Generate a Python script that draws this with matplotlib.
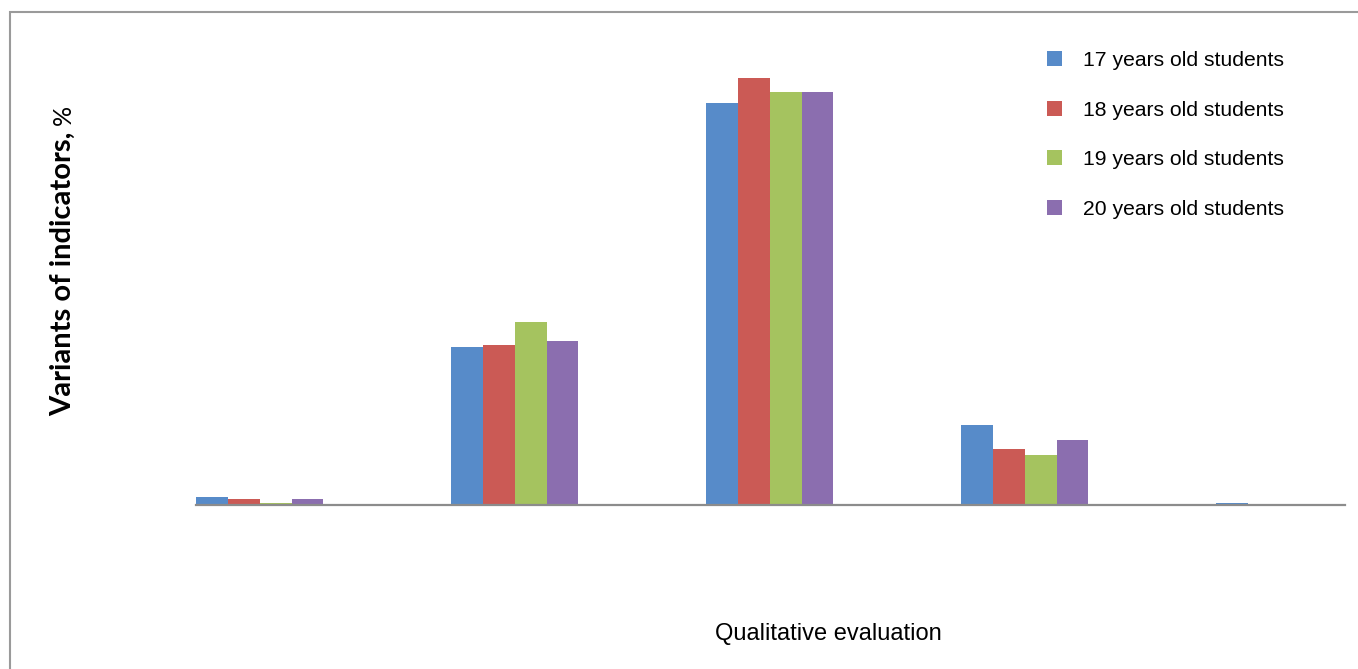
import matplotlib
matplotlib.use("Agg")
import matplotlib.pyplot as plt
from matplotlib.patches import Rectangle, Patch
import numpy as np

categories = ["1", "2", "3", "4", "5"]
series_names = ["17 years old students", "18 years old students",
                "19 years old students", "20 years old students"]
age17 = [1.2, 24.4, 62.0, 12.4, 0.3]
age18 = [0.9, 24.7, 65.9, 8.6, 0.0]
age19 = [0.3, 28.2, 63.7, 7.7, 0.0]
age20 = [0.9, 25.3, 63.7, 10.0, 0.0]
colors = ["#578BC9", "#CB5A55", "#A5C35F", "#8B6EAF"]

W, H = 1358, 669
fig = plt.figure(figsize=(W / 100, H / 100), dpi=100)

# outer frame
fig.patches.append(Rectangle((10 / W, -0.05), 1.2, (H - 12) / H + 0.05,
                             transform=fig.transFigure, fill=False,
                             edgecolor="#9a9a9a", linewidth=1.5))

ax = fig.add_axes([196 / W, (H - 505) / H, (1345 - 196) / W, (505 - 40) / H])
x = np.arange(len(categories))
bw = 0.125
for i, (vals, name) in enumerate(zip([age17, age18, age19, age20], series_names)):
    ax.bar(x - 0.25 + bw * (i + 0.5), vals, width=bw, color=colors[i],
           label=name, linewidth=0)

ax.set_xlim(-0.25, 4.256)
ax.set_ylim(0, 465 / 6.48)
for s in ["top", "right", "left"]:
    ax.spines[s].set_visible(False)
ax.spines["bottom"].set_color("#8c8c8c")
ax.spines["bottom"].set_linewidth(1.6)
ax.set_xticks([])
ax.set_yticks([])
ax.patch.set_alpha(0)

handles = [Patch(facecolor=c, edgecolor="none") for c in colors]
leg = fig.legend(handles, series_names, loc="upper left",
                 bbox_to_anchor=(1047 / W, 1 - 51 / H),
                 frameon=False, prop={"family": "Liberation Sans", "size": 15.2},
                 handlelength=0.72, handleheight=0.72, handletextpad=1.0,
                 labelspacing=1.45, borderaxespad=0, borderpad=0)

fig.text(828 / W, 1 - 634 / H, "Qualitative evaluation", ha="center", va="center",
         family="Liberation Sans", fontsize=17)

t1 = fig.text(63 / W, 1 - 416 / H, "Variants of indicators,", rotation=90,
              ha="center", va="bottom", family=["Lato", "DejaVu Sans"],
              fontweight="bold", fontsize=21)
fig.canvas.draw()
bb = t1.get_window_extent()
fig.text(63 / W, (bb.y1 + 7) / H, "%", rotation=90, ha="center", va="bottom",
         family=["Lato", "DejaVu Sans"], fontsize=18)

fig.savefig("out.png", dpi=100)
